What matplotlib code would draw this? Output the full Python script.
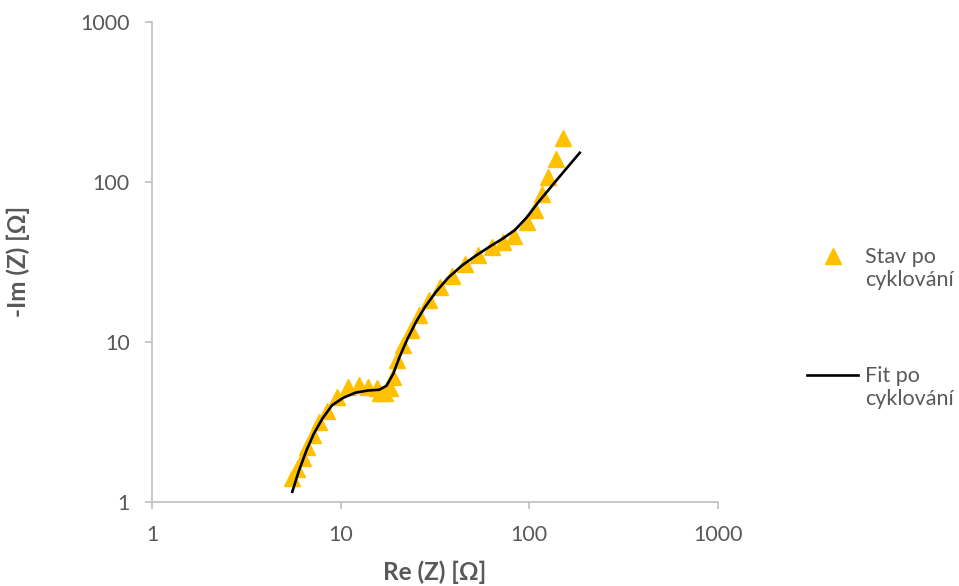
import matplotlib
matplotlib.use("Agg")
import matplotlib.pyplot as plt

plt.rcParams['font.family'] = ['Lato', 'DejaVu Sans']

# Measured data (Re Z, -Im Z) in Ohm
re_meas = [5.54, 5.89, 6.29, 6.65, 7.16, 7.70, 8.49, 9.52, 10.97, 12.5, 14.0, 15.5,
           16.2, 17.2, 18.2, 18.9, 19.8, 21.5, 23.5, 26.0, 29.5, 33.6, 38.7, 45.8,
           53.6, 63.1, 72.7, 83.4, 97.5, 107.8, 116.2, 126.0, 138.3, 151.3]
im_meas = [1.40, 1.60, 1.86, 2.18, 2.61, 3.13, 3.70, 4.49, 5.23, 5.36, 5.23, 5.11,
           4.75, 4.75, 5.11, 6.04, 7.68, 9.53, 11.8, 14.7, 18.1, 21.9, 25.8, 30.6,
           35.1, 39.0, 42.3, 45.7, 56.1, 67.0, 83.4, 107.3, 139.7, 187.5]

# Fit curve
re_fit = [5.54, 6.0, 6.6, 7.2, 8.0, 9.0, 10.3, 12.0, 14.0, 16.0, 17.5, 19.0, 20.5,
          22.5, 25.0, 28.0, 32.0, 37.0, 44.0, 52.0, 62.0, 72.0, 84.0, 97.0, 111.0,
          140.0, 185.0]
im_fit = [1.15, 1.55, 2.1, 2.65, 3.3, 4.0, 4.45, 4.8, 4.95, 5.0, 5.3, 6.3, 8.0,
          10.3, 13.2, 16.5, 20.5, 25.0, 30.0, 34.5, 39.5, 44.0, 50.0, 60.0, 74.0,
          103.0, 152.0]

label_meas = "Stav po\ncyklování"
label_fit = "Fit po\ncyklování"
x_ticks = [1, 10, 100, 1000]
y_ticks = [1, 10, 100, 1000]

gray_text = "#595959"
axis_gray = "#BFBFBF"

W, H = 959, 586
fig = plt.figure(figsize=(W / 100, H / 100), dpi=100)
ax = fig.add_axes([152 / W, 1 - 501.5 / H, (718 - 152) / W, (501.5 - 22) / H])

ax.plot(re_meas, im_meas, linestyle="none", marker="^", markersize=11,
        color="#FFC000", label=label_meas, zorder=2)
ax.plot(re_fit, im_fit, color="black", linewidth=1.9, label=label_fit, zorder=3)

ax.set_xscale("log")
ax.set_yscale("log")
ax.set_xlim(1, 1000)
ax.set_ylim(1, 1000)
ax.set_xticks(x_ticks)
ax.set_yticks(y_ticks)
ax.set_xticklabels([str(t) for t in x_ticks])
ax.set_yticklabels([str(t) for t in y_ticks])
ax.minorticks_off()

for s in ["top", "right"]:
    ax.spines[s].set_visible(False)
for s in ["left", "bottom"]:
    ax.spines[s].set_color(axis_gray)
    ax.spines[s].set_linewidth(1.2)
ax.tick_params(axis="both", which="major", direction="out", length=5,
               color=axis_gray, width=1.2, labelsize=15.5, labelcolor=gray_text)
ax.tick_params(axis="y", pad=11)
ax.tick_params(axis="x", pad=12)

ax.set_xlabel("Re (Z) [Ω]", fontsize=17.5, fontweight="bold", color=gray_text, labelpad=11)
ax.set_ylabel("-Im (Z) [Ω]", fontsize=17.5, fontweight="bold", color=gray_text, labelpad=36)

fs_leg = 15.5
leg = ax.legend(loc="upper left", bbox_to_anchor=(807 / W, 1 - 247 / H),
                bbox_transform=fig.transFigure, frameon=False, fontsize=fs_leg,
                labelcolor=gray_text, handlelength=2.37, handleheight=1.2,
                handletextpad=0.33, labelspacing=3.5, borderpad=0, borderaxespad=0)
# align each handle with the first line of its (two-line) label, as in the reference
for col in leg._legend_handle_box.get_children():
    for item in col.get_children():
        item.align = "top"

fig.savefig("out.png", dpi=100)
